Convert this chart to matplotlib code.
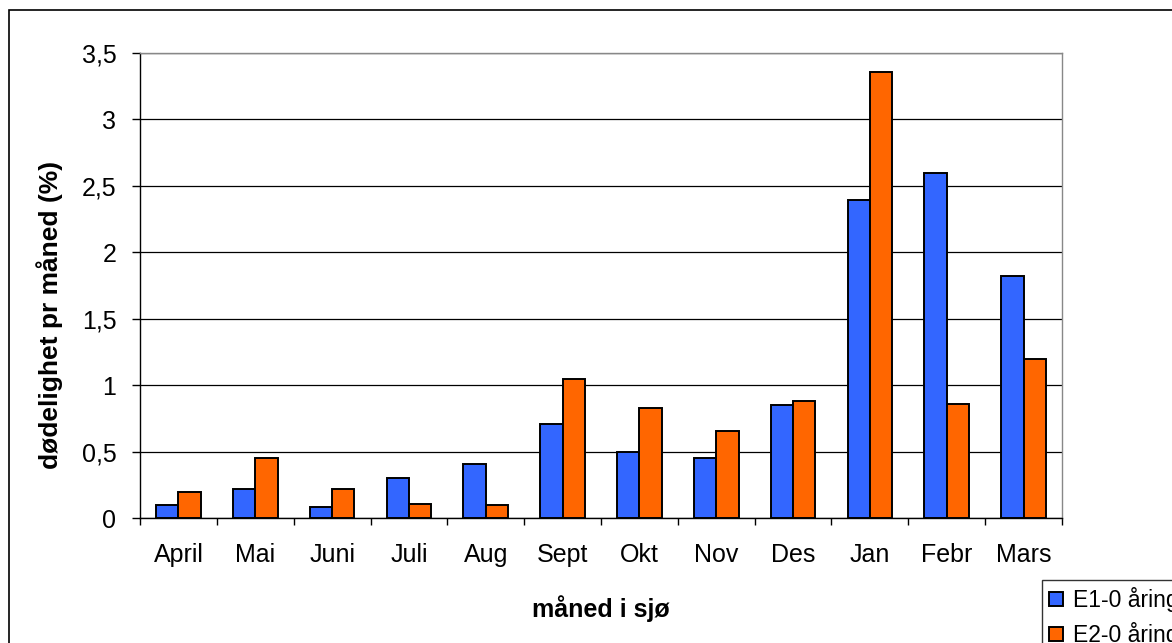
import numpy as np
import matplotlib
matplotlib.use("Agg")
import matplotlib.pyplot as plt
from matplotlib.patches import Rectangle
from matplotlib.ticker import FuncFormatter, FixedLocator

plt.rcParams["font.family"] = ["Liberation Sans", "DejaVu Sans"]

months = ["April", "Mai", "Juni", "Juli", "Aug", "Sept", "Okt", "Nov", "Des", "Jan", "Febr", "Mars"]
e1 = [0.10, 0.22, 0.08, 0.30, 0.41, 0.71, 0.50, 0.45, 0.85, 2.39, 2.60, 1.82]
e2 = [0.195, 0.45, 0.22, 0.105, 0.10, 1.05, 0.83, 0.655, 0.88, 3.36, 0.86, 1.20]
series_names = ["E1-0 åring", "E2-0 åring"]
yticks = [0, 0.5, 1, 1.5, 2, 2.5, 3, 3.5]

W, H = 1172, 643
fig = plt.figure(figsize=(W / 100, H / 100), dpi=100)
ax = fig.add_axes([140 / W, 1 - 518 / H, (1062 - 140) / W, (518 - 53) / H])

x = np.arange(len(months))
bw = 0.29
ax.bar(x - bw / 2, e1, bw, color="#3366FF", edgecolor="black", linewidth=1.4,
       label=series_names[0], zorder=3)
ax.bar(x + bw / 2, e2, bw, color="#FF6600", edgecolor="black", linewidth=1.4,
       label=series_names[1], zorder=3)

ax.set_xlim(-0.5, len(months) - 0.5)
ax.set_ylim(0, 3.5)
ax.set_yticks(yticks)
ax.yaxis.set_major_formatter(FuncFormatter(lambda v, p: f"{v:g}".replace(".", ",")))
ax.yaxis.grid(True, color="black", linewidth=0.9, zorder=0)

ax.set_xticks(x)
ax.set_xticklabels(months)
ax.xaxis.set_minor_locator(FixedLocator(np.arange(-0.5, len(months), 1.0)))
ax.tick_params(axis="x", which="major", length=0, labelsize=18, pad=18)
ax.tick_params(axis="x", which="minor", length=5, direction="out", width=1)
ax.tick_params(axis="y", length=6, direction="out", width=1, labelsize=18, pad=11)

for side in ["top", "right"]:
    ax.spines[side].set_color("#888888")
    ax.spines[side].set_linewidth(1)
for side in ["left", "bottom"]:
    ax.spines[side].set_color("black")
    ax.spines[side].set_linewidth(1)

ax.set_xlabel("måned i sjø", fontsize=18, fontweight="bold", labelpad=20)
ax.set_ylabel("dødelighet pr måned (%)", fontsize=19, fontweight="bold")
ax.yaxis.set_label_coords((63 - 140) / 922, (518 - 315) / 465)

# outer chart border, cut off at the right and bottom like the original
fig.patches.append(Rectangle((9 / W, -0.1), 1.2, 1 - 10 / H + 0.1, transform=fig.transFigure,
                             fill=False, edgecolor="black", linewidth=1.2))

# legend sits partly outside the picture in the original
leg = fig.legend(loc="upper left", bbox_to_anchor=(1042 / W, 1 - 580 / H),
                 frameon=True, fancybox=False, fontsize=16.5, handlelength=0.6,
                 handleheight=0.6, handletextpad=0.45, borderaxespad=0,
                 borderpad=0.3, labelspacing=0.45)
leg.get_frame().set_edgecolor("black")
leg.get_frame().set_linewidth(1)

fig.savefig("out.png", dpi=100)
